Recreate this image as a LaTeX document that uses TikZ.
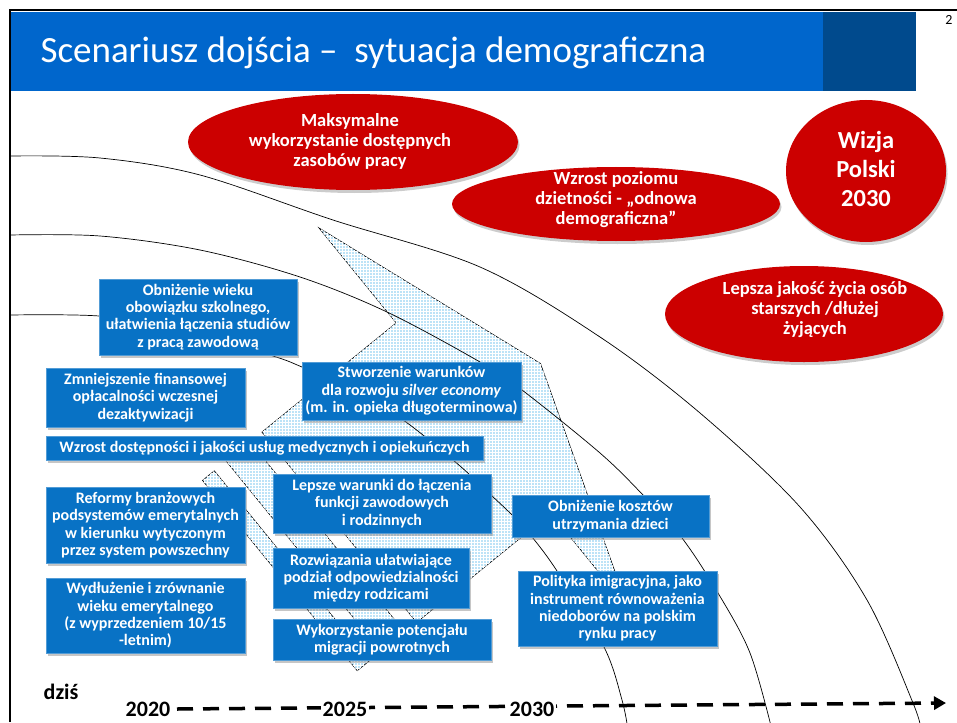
\documentclass[tikz,border=0pt]{standalone}
\usepackage{fontspec}
\setmainfont{Carlito}
\usepackage{tikz}
\usetikzlibrary{arrows.meta,shadows,patterns}
\definecolor{tytul}{HTML}{0066CC}
\definecolor{tytulciemny}{HTML}{004A8D}
\definecolor{niebieski}{HTML}{0872C5}
\definecolor{czerwony}{HTML}{CC0000}
\definecolor{jasny}{HTML}{BDE3F7}
\newcommand{\fblok}{\bfseries\fontsize{16}{17.3}\selectfont}
\newcommand{\felipsa}{\bfseries\fontsize{18.5}{20}\selectfont}
\newcommand{\frok}{\bfseries\fontsize{22}{24}\selectfont}
\tikzset{
  blok/.style={draw=white!30!niebieski, fill=niebieski, line width=0.6pt, text=white, font=\fblok, align=center, inner sep=0pt, drop shadow={shadow xshift=2pt, shadow yshift=-2.5pt, opacity=0.45}},
  elipsa/.style={fill=czerwony, drop shadow={shadow xshift=1.5pt, shadow yshift=-3pt, opacity=0.4}},
  eltekst/.style={text=white, font=\felipsa, align=center},
  luk/.style={draw=black, line width=0.7pt},
  pasek/.style={draw=black, line width=0.6pt, fill=jasny, postaction={pattern=grid, pattern color=white, fill opacity=0.3}},
  osczasu/.style={draw=black, line width=3.5pt, dash pattern=on 16pt off 10pt, -{Triangle[length=12pt,width=13pt]}},
  rok/.style={font=\frok, text=black, anchor=base, inner xsep=1.5pt, inner ysep=0pt, fill=white},
}

\begin{document}
\begin{tikzpicture}[x=1pt, y=-1pt]
  \useasboundingbox (0,0) rectangle (957,722);
  % naglowek
  \fill[tytul] (10,12) rectangle (916,91);
  \fill[tytulciemny] (823,12) rectangle (916,91);
  \node[anchor=base west, text=white, font=\fontsize{37}{40}\selectfont] (tytul) at (37,63) {Scenariusz dojścia –\ \ sytuacja demograficzna};
  \node[anchor=base east, font=\fontsize{14}{16}\selectfont] (strona) at (956,25) {2};
  \draw[line width=2.5pt] (10,722) -- (10,10) -- (957,10);

  % strzalka w tle
  \path[pasek] (540.5,363.5) -- (318.9,227.9) -- (396.2,322.9) -- (261.9,432.1)
    -- (416.6,622.4) -- (550.9,513.2) -- (628.1,608.2) -- cycle;
  \path[pasek] (226.2,461.1) -- (250.0,441.8) -- (404.7,632.1) -- (380.9,651.4) -- cycle;
  \path[pasek] (202.5,480.4) -- (214.3,470.8) -- (369.1,661.1) -- (357.2,670.7) -- cycle;

  % luki
  \draw[luk] plot[smooth, tension=0.55] coordinates {(10,156) (100,158) (200,175) (333,220) (480,267) (600,337) (700,413) (800,507) (867,600) (913,703) (921,730)};
  \draw[luk] plot[smooth, tension=0.55] coordinates {(10,235) (100,236) (200,250) (300,277) (387,312) (480,362) (522,390) (600,453) (643,495) (682,538) (718,593) (750,653) (772,730)};
  \draw[luk] plot[smooth, tension=0.55] coordinates {(10,315) (99,316) (180,328) (273,356) (302,367) (360,392) (410,425) (460,466) (491,495) (512,515) (532,537) (557,571) (604,647) (622,700) (628,730)};

  % bloki
  \node[blok, minimum width=198pt, minimum height=76pt] (szkola) at (198,317) {Obniżenie wieku\\obowiązku szkolnego,\\ułatwienia łączenia studiów\\z pracą zawodową};
  \node[blok, minimum width=199pt, minimum height=59pt] (dezakt) at (145.5,397.5) {Zmniejszenie finansowej\\opłacalności wczesnej\\dezaktywizacji};
  \node[blok, minimum width=437pt, minimum height=24pt] (uslugi) at (264.5,448) {Wzrost dostępności i jakości usług medycznych i opiekuńczych};
  \node[blok, minimum width=219pt, minimum height=58pt] (silver) at (411.5,391) {Stworzenie warunków\\dla rozwoju \textit{silver economy}\\(m. in. opieka długoterminowa)};
  \node[blok, minimum width=218pt, minimum height=59pt] (rodzina) at (382,503.5) {Lepsze warunki do łączenia\\funkcji zawodowych\\i rodzinnych};
  \node[blok, minimum width=196pt, minimum height=60pt] (rodzice) at (371,578) {Rozwiązania ułatwiające\\podział odpowiedzialności\\między rodzicami};
  \node[blok, minimum width=218pt, minimum height=41pt] (powroty) at (382,639.5) {Wykorzystanie potencjału\\migracji powrotnych};
  \node[blok, minimum width=199pt, minimum height=76pt] (reformy) at (145.5,525) {Reformy branżowych\\podsystemów emerytalnych\\w kierunku wytyczonym\\przez system powszechny};
  \node[blok, minimum width=199pt, minimum height=75pt] (wiek) at (145.5,615.5) {Wydłużenie i zrównanie\\wieku emerytalnego\\(z wyprzedzeniem 10/15\\-letnim)};
  \node[blok, minimum width=197pt, minimum height=42pt] (dzieci) at (610.5,516) {Obniżenie kosztów\\utrzymania dzieci};
  \node[blok, minimum width=199pt, minimum height=75pt] (imigracja) at (617.5,608.5) {Polityka imigracyjna, jako\\instrument równoważenia\\niedoborów na polskim\\rynku pracy};

  % elipsy
  \fill[elipsa] (353,142) ellipse [x radius=165pt, y radius=48pt];
  \node[eltekst] (zasoby) at (350,141) {Maksymalne\\wykorzystanie dostępnych\\zasobów pracy};
  \fill[elipsa] (616,204) ellipse [x radius=164pt, y radius=37pt];
  \node[eltekst] (dzietnosc) at (616,200) {Wzrost poziomu\\dzietności - „odnowa\\demograficzna”};
  \fill[elipsa] (866,171) ellipse [x radius=80pt, y radius=71pt];
  \node[eltekst, font=\bfseries\fontsize{24.5}{29}\selectfont] (wizja) at (866,169) {Wizja\\Polski\\2030};
  \fill[elipsa] (804,314) ellipse [x radius=139pt, y radius=48pt];
  \node[eltekst] (seniorzy) at (815,310) {Lepsza jakość życia osób\\starszych /dłużej\\żyjących};

  % os czasu
  \coordinate (start) at (177,709);
  \coordinate (koniec) at (946,703);
  \draw[osczasu] (start) -- (koniec);
  \node[rok, anchor=base west] (dzis) at (42,699) {dziś};
  \node[rok] (r2020) at (148,716) {2020};
  \node[rok] (r2025) at (345,716) {2025};
  \node[rok] (r2030) at (532,716) {2030};
\end{tikzpicture}
\end{document}
